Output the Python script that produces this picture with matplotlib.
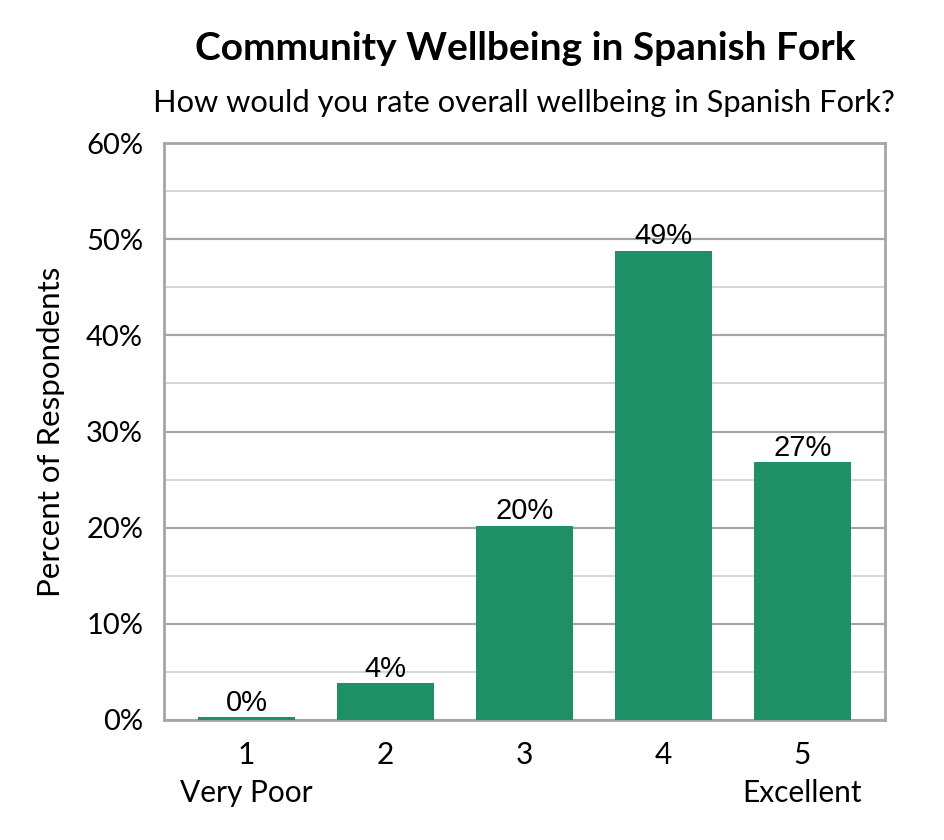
import matplotlib
matplotlib.use('Agg')
import matplotlib.pyplot as plt
import numpy as np

ratings = ['1', '2', '3', '4', '5']
anchors = ['Very Poor', '', '', '', 'Excellent']
percents = [0.3, 3.8, 20.2, 48.8, 26.8]
labels = ['0%', '4%', '20%', '49%', '27%']

plt.rcParams['font.family'] = ['Lato', 'DejaVu Sans']

fig = plt.figure(figsize=(9.45, 8.4), dpi=100)
ax = fig.add_axes([164/945, 1-720/840, (885-164)/945, (720-143)/840])

x = np.arange(len(ratings))
ax.bar(x, percents, width=0.70, color='#1f9065', zorder=3)
for xi, p, lab in zip(x, percents, labels):
    ax.text(xi, p + 0.05, lab, ha='center', va='bottom', fontsize=21,
            family='Liberation Sans', zorder=4)

ax.set_xlim(-0.594, 4.594)
ax.set_ylim(0, 60)
ax.set_yticks(np.arange(0, 61, 10))
ax.set_yticklabels([f'{v}%' for v in range(0, 61, 10)], fontsize=21)
ax.set_yticks(np.arange(5, 60, 10), minor=True)
ax.grid(axis='y', which='major', color='#a6a6a6', lw=1.6, zorder=0)
ax.grid(axis='y', which='minor', color='#d0d0d0', lw=1.2, zorder=0)
ax.tick_params(axis='y', which='both', length=0, pad=15)
ax.set_xticks(x)
ax.set_xticklabels([r + '\n' + a for r, a in zip(ratings, anchors)], fontsize=21.5,
                   linespacing=1.45, va='top')
ax.tick_params(axis='x', length=0, pad=15)
for s in ax.spines.values():
    s.set_color('#a6a6a6')
    s.set_linewidth(2)

ax.set_ylabel('Percent of Respondents', fontsize=22.5, labelpad=15)

fig.text(525/945, 1-48/840, 'Community Wellbeing in Spanish Fork', ha='center',
         va='center', fontsize=28, fontweight='bold')
fig.text(524/945, 1-103/840, 'How would you rate overall wellbeing in Spanish Fork?',
         ha='center', va='center', fontsize=22.2)

fig.savefig('out.png', dpi=100)
